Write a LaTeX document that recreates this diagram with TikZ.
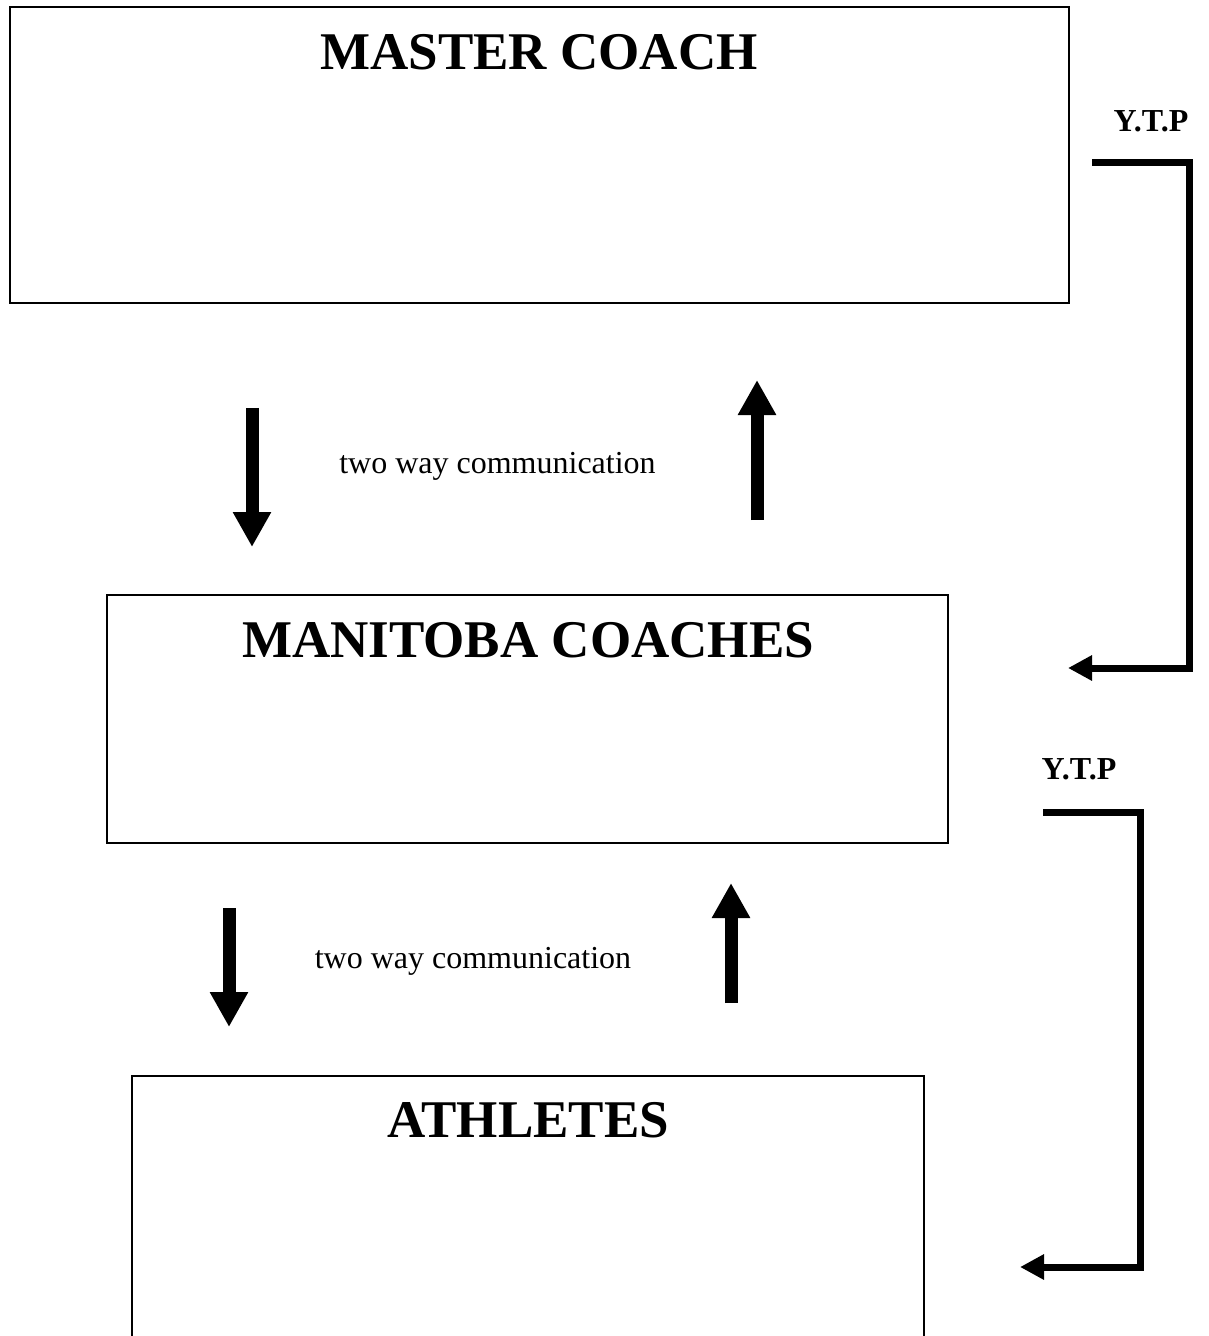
\documentclass[tikz,border=0pt]{standalone}
\usepackage{fontspec}
\setmainfont{Liberation Serif}
\usetikzlibrary{arrows.meta}
\tikzset{
  box/.style={draw=black, fill=none, inner sep=0pt, outer sep=0pt},
  title/.style={font=\bfseries\fontsize{26.5}{30}\selectfont, anchor=base, inner sep=0pt},
  comm/.style={font=\fontsize{16}{19}\selectfont, anchor=base, inner sep=0pt},
  ytp/.style={font=\bfseries\fontsize{16}{19}\selectfont, anchor=base, inner sep=0pt},
  blockarrow/.style={line width=6.5pt, -{Triangle[width=18pt,length=17.5pt]}},
  bracketarrow/.style={line width=3.5pt, line join=miter, -{Triangle[width=12pt,length=12pt]}}
}
\begin{document}
\begin{tikzpicture}[x=0.5pt,y=-0.5pt]
\useasboundingbox (0,0) rectangle (1208,1336);
\clip (0,0) rectangle (1208,1336);
\fill[white] (0,0) rectangle (1208,1336);

% boxes
\node[box, line width=1.4pt, minimum width=529.5pt, minimum height=148pt] (mc) at (539.5,155) {};
\node[box, line width=1pt, minimum width=420.5pt, minimum height=124pt] (mb) at (527.5,719) {};
\node[box, line width=1pt, minimum width=396pt, minimum height=162pt] (at) at (528,1238) {};

% titles
\node[title] (mct) at (539,70) {MASTER COACH};
\node[title] (mbt) at (528,657) {MANITOBA COACHES};
\node[title] (att) at (528,1137) {ATHLETES};

% communication labels
\node[comm] (c1) at (497.5,473) {two way communication};
\node[comm] (c2) at (473,968) {two way communication};

% Y.T.P labels
\node[ytp] (y1) at (1151,132) {Y.T.P};
\node[ytp] (y2) at (1079,779) {Y.T.P};

% arrow end points
\coordinate (d1s) at (252,408);
\coordinate (d1e) at (252,547);
\coordinate (u1s) at (757,520);
\coordinate (u1e) at (757,380);
\coordinate (d2s) at (229,908);
\coordinate (d2e) at (229,1027);
\coordinate (u2s) at (731,1003);
\coordinate (u2e) at (731,883);

\draw[blockarrow] (d1s) -- (d1e);
\draw[blockarrow] (u1s) -- (u1e);
\draw[blockarrow] (d2s) -- (d2e);
\draw[blockarrow] (u2s) -- (u2e);

% Y.T.P brackets
\coordinate (b1a) at (1092,163);
\coordinate (b1b) at (1189,163);
\coordinate (b1c) at (1189,668);
\coordinate (b1d) at (1068,668);
\draw[bracketarrow] (b1a) -- (b1b) -- (b1c) -- (b1d);

\coordinate (b2a) at (1043,812);
\coordinate (b2b) at (1140,812);
\coordinate (b2c) at (1140,1267);
\coordinate (b2d) at (1020,1267);
\draw[bracketarrow] (b2a) -- (b2b) -- (b2c) -- (b2d);
\end{tikzpicture}
\end{document}
